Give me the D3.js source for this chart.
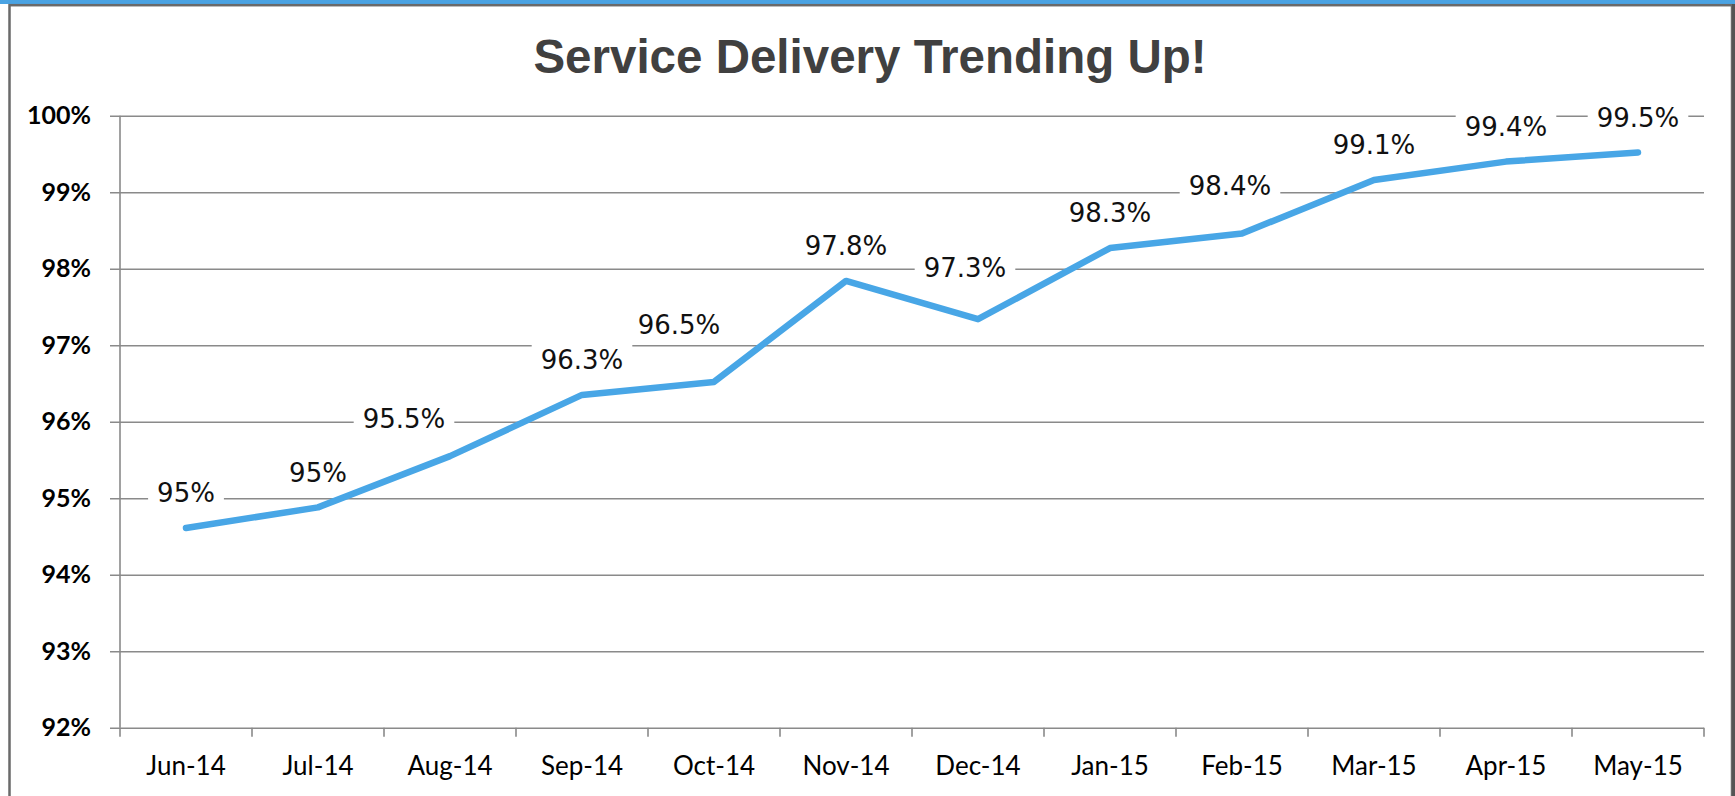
<!DOCTYPE html>
<html>
<head>
<meta charset="utf-8">
<script src="https://cdn.jsdelivr.net/npm/d3@7"></script>
<style>
  body { margin: 0; background: #fff; }
  svg { display: block; }
</style>
</head>
<body>
<svg id="chart"></svg>
<script>
// chart data
const months = ["Jun-14", "Jul-14", "Aug-14", "Sep-14", "Oct-14", "Nov-14",
                "Dec-14", "Jan-15", "Feb-15", "Mar-15", "Apr-15", "May-15"];
const delivery = [94.61, 94.88, 95.55, 96.35, 96.52, 97.84, 97.34, 98.27, 98.46, 99.16, 99.40, 99.52];
const pointLabels = ["95%", "95%", "95.5%", "96.3%", "96.5%", "97.8%",
                     "97.3%", "98.3%", "98.4%", "99.1%", "99.4%", "99.5%"];
const yTicks = [92, 93, 94, 95, 96, 97, 98, 99, 100];

// a few labels were dragged away from the default spot in the original
const labelNudge = {"Aug-14": [-46, -3], "Oct-14": [-35, -22], "Dec-14": [-13, -17], "Feb-15": [-12, -13]};

const W = 1735, H = 796;
const svg = d3.select("#chart").attr("width", W).attr("height", H);

// frame
svg.append("rect").attr("x", 0).attr("y", 0).attr("width", W).attr("height", 4).attr("fill", "#4aa3e3");
svg.append("rect")
    .attr("x", 9.5).attr("y", 5.2).attr("width", 1722.5).attr("height", 820)
    .attr("fill", "none").attr("stroke", "#6a6a6a").attr("stroke-width", 2.5);
svg.append("line")
    .attr("x1", 1733.5).attr("x2", 1733.5).attr("y1", 4).attr("y2", H)
    .attr("stroke", "#555").attr("stroke-width", 3);

const plotL = 120, plotR = 1704, plotT = 115.7, plotB = 727.7;

const x = d3.scaleBand().domain(months).range([plotL, plotR]);
const y = d3.scaleLinear().domain([92, 100]).range([plotB, plotT]);

// title
svg.append("text")
    .attr("x", 870).attr("y", 73)
    .attr("text-anchor", "middle")
    .style("font-family", "'Liberation Sans', Arial, sans-serif")
    .style("font-weight", "bold")
    .style("font-size", "47.5px")
    .attr("fill", "#404040")
    .text("Service Delivery Trending Up!");

// gridlines + y labels
let gy = svg.append("g")
    .attr("transform", `translate(${plotR},0)`)
    .call(d3.axisLeft(y).tickValues(yTicks).tickSize(plotR - 110).tickPadding(19)
        .tickFormat(d => d + "%"));
gy.select(".domain").remove();
gy.selectAll(".tick line").attr("stroke", "#8a8a8a").attr("stroke-width", 1.6);
gy.selectAll(".tick text")
    .attr("fill", "#000")
    .style("font-family", "Lato, sans-serif")
    .style("font-weight", "bold")
    .style("font-size", "25px");

// vertical axis line
svg.append("line")
    .attr("x1", plotL).attr("x2", plotL).attr("y1", y(100)).attr("y2", y(92))
    .attr("stroke", "#8a8a8a").attr("stroke-width", 1.6);

// category ticks at band edges
let edges = months.map(m => x(m)).concat([x.range()[1]]);
svg.append("g").selectAll("line").data(edges).join("line")
    .attr("x1", d => d).attr("x2", d => d)
    .attr("y1", y(92)).attr("y2", y(92) + 9)
    .attr("stroke", "#8a8a8a").attr("stroke-width", 1.6);

// x labels
let gx = svg.append("g")
    .attr("transform", `translate(0,${plotB})`)
    .call(d3.axisBottom(x).tickSize(0).tickPadding(29));
gx.select(".domain").remove();
gx.selectAll(".tick text")
    .attr("fill", "#000")
    .style("font-family", "Lato, sans-serif")
    .style("font-size", "26px");

// the line
let pts = months.map((m, i) => ({month: m, value: delivery[i], label: pointLabels[i]}));
let line = d3.line()
    .x(d => x(d.month) + x.bandwidth() / 2)
    .y(d => y(d.value));

svg.append("path")
    .datum(pts)
    .attr("d", line)
    .attr("fill", "none")
    .attr("stroke", "#48a6e6")
    .attr("stroke-width", 6.5)
    .attr("stroke-linecap", "round")
    .attr("stroke-linejoin", "round");

// data labels with white boxes
let lbl = svg.append("g").selectAll("g").data(pts).join("g")
    .attr("transform", d => {
        let n = labelNudge[d.month] || [0, 0];
        return `translate(${x(d.month) + x.bandwidth() / 2 + n[0]},${y(d.value) - 35 + n[1]})`;
    });

lbl.append("text")
    .attr("text-anchor", "middle")
    .attr("dy", "0.36em")
    .style("font-family", "'DejaVu Sans', sans-serif")
    .style("font-size", "26px")
    .attr("fill", "#111")
    .text(d => d.label);

lbl.each(function() {
    let g = d3.select(this);
    let bb = g.select("text").node().getBBox();
    g.insert("rect", "text")
        .attr("x", bb.x - 9).attr("y", -16)
        .attr("width", bb.width + 18).attr("height", 32)
        .attr("fill", "#fff");
});
</script>
</body>
</html>
